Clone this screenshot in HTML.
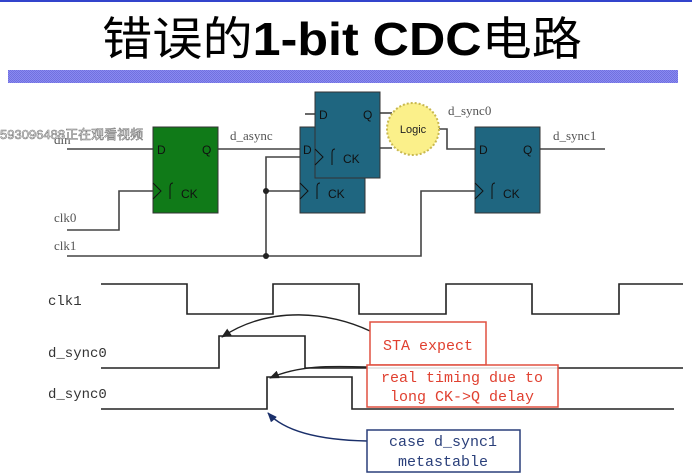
<!DOCTYPE html>
<html><head><meta charset="utf-8"><style>
html,body{margin:0;padding:0;background:#fff;}
svg{display:block;}
</style></head><body>
<svg width="692" height="476" viewBox="0 0 692 476" xmlns="http://www.w3.org/2000/svg">
<defs>
<pattern id="chk" width="2" height="2" patternUnits="userSpaceOnUse">
<rect width="2" height="2" fill="#8a8af0"/><rect width="1" height="1" fill="#7070e0"/><rect x="1" y="1" width="1" height="1" fill="#7070e0"/>
</pattern>
<marker id="ah" markerWidth="10" markerHeight="8" refX="9" refY="4" orient="auto" markerUnits="userSpaceOnUse"><path d="M0,0 L10,4 L0,8 Z" fill="#222"/></marker>
<marker id="ahb" markerWidth="10" markerHeight="8" refX="9" refY="4" orient="auto" markerUnits="userSpaceOnUse"><path d="M0,0 L10,4 L0,8 Z" fill="#1a2f6a"/></marker>
</defs>
<rect width="692" height="2" fill="#3344cc"/>
<text x="102" y="55" textLength="480" lengthAdjust="spacingAndGlyphs" font-family="'Liberation Sans','Noto Sans CJK SC',sans-serif" font-size="46" fill="#000"><tspan>错误的</tspan><tspan font-weight="bold">1-bit CDC</tspan><tspan>电路</tspan></text>
<rect x="8" y="70" width="670" height="13" fill="url(#chk)"/>

<g stroke="#444" stroke-width="1.6" fill="none">
<path d="M67 149H153"/>
<path d="M67 230H119V191H153"/>
<path d="M67 256H421V191H476"/>
<path d="M266 256V157H315"/>
<path d="M266 191H300"/>
<path d="M218 149H300"/>
<path d="M305 114H315"/>
<path d="M380 113H392"/>
<path d="M365 148H392"/>
<path d="M438 129H447V149H476"/>
<path d="M540 149H605"/>
</g>
<circle cx="266" cy="191" r="3" fill="#222"/>
<circle cx="266" cy="256" r="3" fill="#222"/>

<rect x="153" y="127" width="65" height="86" fill="#107a18" stroke="#333"/>
<rect x="300" y="127" width="65" height="86" fill="#1f6680" stroke="#333"/>
<rect x="315" y="92" width="65" height="86" fill="#1f6680" stroke="#333"/>
<rect x="475" y="127" width="65" height="86" fill="#1f6680" stroke="#333"/>

<g font-family="'Liberation Sans',sans-serif" font-size="12" fill="#111">
<text x="157" y="154">D</text><text x="202" y="154">Q</text><text x="181" y="198">CK</text>
<text x="303" y="154">D</text><text x="328" y="198">CK</text>
<text x="319" y="119">D</text><text x="363" y="119">Q</text><text x="343" y="163">CK</text>
<text x="479" y="154">D</text><text x="523" y="154">Q</text><text x="503" y="198">CK</text>
</g>
<g stroke="#111" stroke-width="1" fill="none">
<path d="M153 183L161 191L153 199"/><path d="M170 199V187q0-4 3-4"/>
<path d="M300 183L308 191L300 199"/><path d="M317 199V187q0-4 3-4"/>
<path d="M315 149L323 157L315 165"/><path d="M332 165V153q0-4 3-4"/>
<path d="M475 183L483 191L475 199"/><path d="M492 199V187q0-4 3-4"/>
</g>

<circle cx="413" cy="129" r="26" fill="#fbf08a" stroke="#c8b850" stroke-width="2" stroke-dasharray="2 2"/>
<text x="413" y="133" text-anchor="middle" font-family="'Liberation Sans',sans-serif" font-size="11" fill="#222">Logic</text>

<g font-family="'Liberation Serif','Liberation Mono',serif" font-size="13" fill="#555">
<text x="230" y="140">d_async</text>
<text x="448" y="115">d_sync0</text>
<text x="553" y="140">d_sync1</text>
<text x="54" y="222">clk0</text>
<text x="54" y="250">clk1</text>
<text x="54" y="144">din</text>
</g>
<text x="0" y="139" font-family="'Liberation Sans','Noto Sans CJK SC',sans-serif" font-size="13" fill="#fff" stroke="#777" stroke-width="0.6">593096488正在观看视频</text>

<g stroke="#222" stroke-width="1.6" fill="none">
<path d="M101 284H187V314H273V284H359V314H446V284H532V314H619V284H683"/>
<path d="M101 368H219V336H305V368H683"/>
<path d="M101 409H267V377H352V409H674"/>
</g>
<g font-family="'Liberation Mono','Liberation Serif',monospace" font-size="14" fill="#333">
<text x="48" y="305">clk1</text>
<text x="48" y="357">d_sync0</text>
<text x="48" y="398">d_sync0</text>
</g>
<path d="M370 331C330 312 270 305 222 337" stroke="#222" stroke-width="1.4" fill="none" marker-end="url(#ah)"/>
<path d="M367 367C330 366 300 365 270 378" stroke="#222" stroke-width="1.4" fill="none" marker-end="url(#ah)"/>
<path d="M367 441C320 440 285 432 268 413" stroke="#1a2f6a" stroke-width="1.4" fill="none" marker-end="url(#ahb)"/>

<rect x="370" y="322" width="116" height="43" fill="#fff" stroke="#e05040" stroke-width="1.5"/>
<rect x="367" y="365" width="191" height="42" fill="#fff" fill-opacity="0.85" stroke="#e05040" stroke-width="1.5"/>
<rect x="367" y="430" width="153" height="42" fill="#fff" stroke="#2a3f7a" stroke-width="1.5"/>
<g font-family="'Liberation Mono','Liberation Serif',monospace" font-size="15" text-anchor="middle">
<text x="428" y="350" fill="#e04030">STA expect</text>
<text x="462" y="382" fill="#e04030">real timing due to</text>
<text x="462" y="401" fill="#e04030">long CK-&gt;Q delay</text>
<text x="443" y="446" fill="#2a3f7a">case d_sync1</text>
<text x="443" y="466" fill="#2a3f7a">metastable</text>
</g>
</svg>
</body></html>
